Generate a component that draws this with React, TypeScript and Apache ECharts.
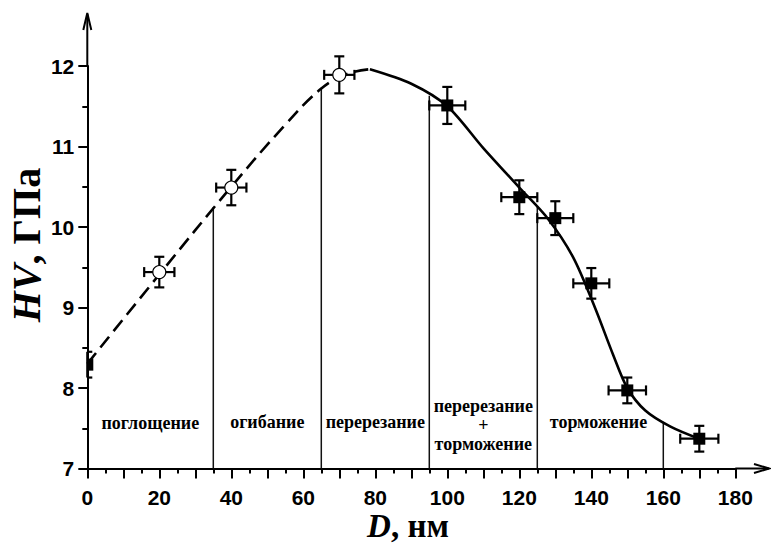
import React, { useEffect, useRef } from 'react';
import * as echarts from 'echarts';

// ---- data ----
const xTickLabels = [0, 20, 40, 60, 80, 100, 120, 140, 160, 180];
const yTickLabels = [7, 8, 9, 10, 11, 12];

const pointX = [0, 20, 40, 70, 100, 120, 130, 140, 150, 170];
const pointY = [8.29, 9.44, 10.49, 11.89, 11.51, 10.37, 10.11, 9.3, 7.97, 7.37];
const errX = [0, 4.2, 4.2, 4.2, 5, 5, 5, 5, 5.2, 5.3];
const errY = [0.16, 0.19, 0.22, 0.23, 0.23, 0.21, 0.21, 0.19, 0.16, 0.16];
const pointFilled = [1, 0, 0, 0, 1, 1, 1, 1, 1, 1];

const dashX = [0, 20, 40, 55, 65, 72, 78.5];
const dashY = [8.3, 9.41, 10.5, 11.27, 11.72, 11.9, 11.96];

const solidX = [78.5, 90, 100, 110, 120, 128, 135, 141, 146, 150, 155, 162, 170.5];
const solidY = [11.96, 11.78, 11.5, 10.98, 10.49, 10.1, 9.62, 9.0, 8.42, 8.0, 7.72, 7.52, 7.36];

const boundaryX = [35, 65, 95, 125, 160];
const boundaryTop = [10.25, 11.73, 11.63, 10.25, 7.58];

const regionText = ['поглощение', 'огибание', 'перерезание', 'перерезание\n+\nторможение', 'торможение'];
const regionX = [17.5, 50, 80, 110, 142];
const regionY = [7.57, 7.58, 7.58, 7.54, 7.58];

export default function App() {
  const ref = useRef<HTMLDivElement>(null);

  useEffect(() => {
    const chart = echarts.init(ref.current!, null, { renderer: 'svg' });
    const W = 771;
    const H = 543;
    const grid = { left: 87.3, right: 35.7, top: 66, bottom: 74.5 };
    const axX0 = grid.left;
    const axY0 = H - grid.bottom;
    const axX1 = W - grid.right;

    const black = '#000';
    const serif = '"Liberation Serif", "Times New Roman", serif';
    const sans = '"Liberation Sans", Arial, sans-serif';

    const option: any = {
      animation: false,
      backgroundColor: '#fff',
      grid: { left: grid.left, right: grid.right, top: grid.top, bottom: grid.bottom },
      xAxis: {
        type: 'value',
        min: 0,
        max: 180,
        interval: 10,
        axisLine: { show: true, lineStyle: { color: black, width: 2 } },
        axisTick: { show: true, length: 10, lineStyle: { color: black, width: 2 } },
        minorTick: { show: true, splitNumber: 2, length: 5, lineStyle: { color: black, width: 2 } },
        splitLine: { show: false },
        axisLabel: {
          margin: 18,
          color: black,
          fontFamily: sans,
          fontWeight: 'bold',
          fontSize: 21,
          lineHeight: 21,
          formatter: (v: number) => (xTickLabels.includes(v) ? String(v) : ''),
        },
      },
      yAxis: {
        type: 'value',
        min: 7,
        max: 12,
        interval: 1,
        axisLine: { show: true, lineStyle: { color: black, width: 2 } },
        axisTick: { show: true, length: 9, lineStyle: { color: black, width: 2 } },
        minorTick: { show: true, splitNumber: 2, length: 5, lineStyle: { color: black, width: 2 } },
        splitLine: { show: false },
        axisLabel: {
          margin: 13,
          color: black,
          fontFamily: sans,
          fontWeight: 'bold',
          fontSize: 21,
          formatter: (v: number) => (yTickLabels.includes(v) ? String(v) : ''),
        },
      },
      series: [
        {
          type: 'custom',
          name: 'boundaries',
          z: 1,
          data: boundaryX.map((x, i) => [x, boundaryTop[i]]),
          renderItem: (params: any, api: any) => {
            const x = api.value(0);
            const top = api.coord([x, api.value(1)]);
            const bot = api.coord([x, 7]);
            return {
              type: 'line',
              shape: { x1: top[0], y1: top[1], x2: bot[0], y2: bot[1] },
              style: { stroke: '#111', lineWidth: 1.5 },
            };
          },
        },
        {
          type: 'line',
          name: 'dashed',
          z: 2,
          data: dashX.map((x, i) => [x, dashY[i]]),
          smooth: 0.4,
          showSymbol: false,
          symbol: 'none',
          lineStyle: { color: black, width: 2.6, type: [14, 7] },
        },
        {
          type: 'line',
          name: 'solid',
          z: 2,
          data: solidX.map((x, i) => [x, solidY[i]]),
          smooth: 0.3,
          showSymbol: false,
          symbol: 'none',
          lineStyle: { color: black, width: 2.6 },
        },
        {
          type: 'custom',
          name: 'points',
          z: 5,
          clip: false,
          data: pointX.map((x, i) => [x, pointY[i], errX[i], errY[i], pointFilled[i]]),
          renderItem: (params: any, api: any) => {
            const x = api.value(0);
            const y = api.value(1);
            const ex = api.value(2);
            const ey = api.value(3);
            const filled = api.value(4) === 1;
            const c = api.coord([x, y]);
            const clipX = params.coordSys.x;
            const cl = (v: number) => Math.max(v, clipX);
            const top = api.coord([x, y + ey])[1];
            const bot = api.coord([x, y - ey])[1];
            const lft = api.coord([x - ex, y])[0];
            const rgt = api.coord([x + ex, y])[0];
            const st = { stroke: black, lineWidth: 2.2 };
            const cap = 5;
            const children: any[] = [];
            children.push({ type: 'line', shape: { x1: c[0], y1: top, x2: c[0], y2: bot }, style: st });
            children.push({ type: 'line', shape: { x1: cl(c[0] - cap), y1: top, x2: c[0] + cap, y2: top }, style: st });
            children.push({ type: 'line', shape: { x1: cl(c[0] - cap), y1: bot, x2: c[0] + cap, y2: bot }, style: st });
            if (ex > 0) {
              children.push({ type: 'line', shape: { x1: cl(lft), y1: c[1], x2: rgt, y2: c[1] }, style: st });
              children.push({ type: 'line', shape: { x1: lft, y1: c[1] - cap, x2: lft, y2: c[1] + cap }, style: st });
              children.push({ type: 'line', shape: { x1: rgt, y1: c[1] - cap, x2: rgt, y2: c[1] + cap }, style: st });
            }
            if (filled) {
              const s = 6;
              const x0 = cl(c[0] - s);
              children.push({
                type: 'rect',
                shape: { x: x0, y: c[1] - s, width: c[0] + s - x0, height: 2 * s },
                style: { fill: black },
              });
            } else {
              children.push({
                type: 'circle',
                shape: { cx: c[0], cy: c[1], r: 6.5 },
                style: { fill: '#fff', stroke: black, lineWidth: 1.2 },
              });
            }
            return { type: 'group', children };
          },
        },
        {
          type: 'custom',
          name: 'regions',
          z: 4,
          data: regionX.map((x, i) => [x, regionY[i]]),
          renderItem: (params: any, api: any) => {
            const c = api.coord([api.value(0), api.value(1)]);
            return {
              type: 'text',
              x: c[0],
              y: c[1],
              style: {
                text: regionText[params.dataIndex],
                fill: '#000',
                fontFamily: serif,
                fontWeight: 'bold',
                fontSize: 18,
                align: 'center',
                verticalAlign: 'middle',
                lineHeight: 19,
              },
            };
          },
        },
      ],
      graphic: [
        { type: 'line', shape: { x1: axX0, y1: grid.top, x2: axX0, y2: 14 }, style: { stroke: black, lineWidth: 2 } },
        {
          type: 'polyline',
          shape: { points: [[axX0 - 4, 30], [axX0, 13], [axX0 + 4, 30]] },
          style: { stroke: black, lineWidth: 2, fill: 'none' },
        },
        { type: 'line', shape: { x1: axX1, y1: axY0, x2: 769, y2: axY0 }, style: { stroke: black, lineWidth: 2 } },
        {
          type: 'polyline',
          shape: { points: [[754, axY0 - 4.5], [769, axY0], [754, axY0 + 4.5]] },
          style: { stroke: black, lineWidth: 2, fill: 'none' },
        },
        {
          type: 'text',
          x: 408,
          y: 526,
          style: {
            text: '{i|D}{n|, нм}',
            align: 'center',
            verticalAlign: 'middle',
            rich: {
              i: { fontFamily: serif, fontStyle: 'italic', fontWeight: 'bold', fontSize: 33, lineHeight: 26, fill: black },
              n: { fontFamily: serif, fontWeight: 'bold', fontSize: 33, lineHeight: 26, fill: black },
            },
          },
        },
        {
          type: 'text',
          x: 26,
          y: 245,
          rotation: Math.PI / 2,
          style: {
            text: '{i|HV}{n|, ГПа}',
            align: 'center',
            verticalAlign: 'middle',
            rich: {
              i: { fontFamily: serif, fontStyle: 'italic', fontWeight: 'bold', fontSize: 40, lineHeight: 34, fill: black },
              n: { fontFamily: serif, fontWeight: 'bold', fontSize: 40, lineHeight: 34, fill: black },
            },
          },
        },
      ],
    };

    chart.setOption(option);
    return () => chart.dispose();
  }, []);

  return (
    <div
      ref={ref}
      style={{ position: 'fixed', left: 0, top: 0, width: 771, height: 543, background: '#fff' }}
    />
  );
}
